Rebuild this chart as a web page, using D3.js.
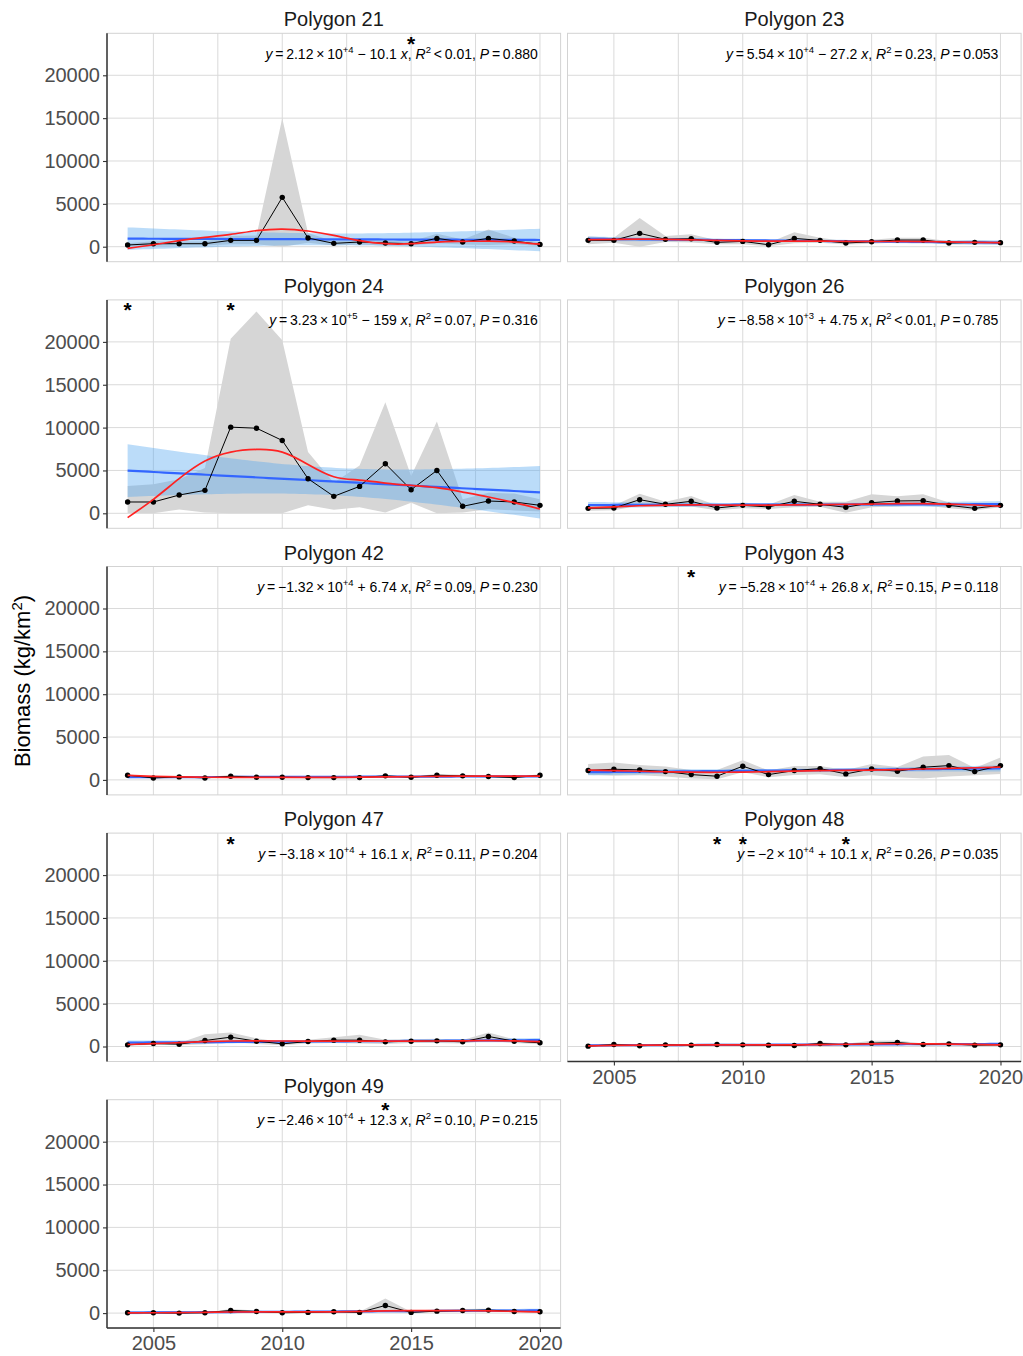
<!DOCTYPE html>
<html><head><meta charset="utf-8">
<script src="https://cdn.jsdelivr.net/npm/d3@7"></script>
<style>body{margin:0;background:#fff}</style>
</head><body><svg id="c" width="1023" height="1356"></svg>
<script>
// ---------------- data ----------------
const years = [2004,2005,2006,2007,2008,2009,2010,2011,2012,2013,2014,2015,2016,2017,2018,2019,2020];
const panelNames = ["Polygon 21","Polygon 23","Polygon 24","Polygon 26","Polygon 42","Polygon 43","Polygon 47","Polygon 48","Polygon 49"];

const meanP21  = [200,350,350,350,740,740,5760,1010,390,545,430,350,970,545,970,660,270];
const lowerP21 = [50,120,150,150,300,300,0,450,150,250,150,150,400,250,200,300,80];
const upperP21 = [400,650,600,600,1250,1300,15000,1600,650,850,700,600,1500,850,2000,1050,500];
const smoothP21 = [-200,230,700,1090,1440,1870,2060,1830,1320,700,350,350,545,620,660,545,300];

const meanP23  = [740,740,1560,860,930,505,620,230,970,740,430,580,780,780,430,505,470];
const lowerP23 = [300,450,0,550,500,300,300,50,400,450,250,350,500,500,250,300,300];
const upperP23 = [1200,1050,3350,1250,1450,750,950,450,1700,1050,650,800,1050,1050,650,750,650];
const smoothP23 = [820,860,880,860,800,730,680,650,650,650,630,610,610,600,560,510,470];

const meanP24  = [1320,1320,2130,2680,10050,9930,8500,4040,1980,3140,5780,2750,5000,815,1435,1320,930];
const lowerP24 = [0,0,450,100,0,0,0,950,400,700,80,1240,0,100,470,340,210];
const upperP24 = [3180,3380,3960,5300,20370,23550,20180,7140,3570,5590,12960,4350,10700,1630,2400,2300,1650];
const smoothP24 = [-500,1630,4040,6090,7140,7450,7140,5700,4270,3880,3530,3260,2990,2480,1900,1240,500];

const meanP26  = [580,620,1590,1050,1400,620,930,740,1400,1050,700,1240,1440,1470,930,580,930];
const lowerP26 = [300,350,900,750,800,350,600,500,700,750,50,700,800,950,600,350,700];
const upperP26 = [850,900,2290,1350,2020,900,1250,1000,2130,1350,1350,2210,2000,2210,1250,800,1150];
const smoothP26 = [640,760,880,950,980,970,950,950,980,1010,1040,1080,1120,1130,1080,970,820];

const meanP42  = [545,230,350,230,430,310,310,270,270,270,470,310,545,470,390,270,545];
const lowerP42 = [420,130,250,150,300,210,210,180,180,180,330,210,400,350,280,180,420];
const upperP42 = [670,330,450,310,560,410,410,360,360,360,610,410,690,590,500,360,670];
const smoothP42 = [520,420,350,310,300,300,300,300,300,320,350,380,420,440,440,440,450];

const meanP43  = [1090,1245,1170,970,620,430,1600,620,1090,1320,700,1280,1010,1480,1670,970,1670];
const lowerP43 = [580,470,540,390,150,70,900,310,580,660,310,540,310,150,400,540,700];
const upperP43 = [1870,2020,1750,1560,1170,1170,2300,1100,1630,1630,1170,1870,1500,2720,2920,1400,2600];
const smoothP43 = [1130,1080,1010,950,900,890,910,960,1030,1080,1110,1150,1200,1270,1350,1420,1480];

const meanP47  = [195,350,270,700,1090,620,310,580,740,740,545,620,660,545,1170,620,430];
const lowerP47 = [100,200,150,250,550,300,150,350,400,350,300,400,400,350,700,400,250];
const upperP47 = [300,500,400,1440,1630,950,500,800,1090,1360,800,850,900,750,1630,850,620];
const smoothP47 = [230,330,450,560,640,660,640,620,620,630,630,630,640,660,680,650,560];

const meanP48  = [40,230,80,195,155,230,195,155,115,350,195,390,470,230,310,155,195];
const lowerP48 = [0,100,0,80,60,100,80,60,40,200,80,120,240,100,150,60,80];
const upperP48 = [100,360,160,310,250,360,310,250,190,500,310,660,700,360,470,250,310];
const smoothP48 = [80,120,150,170,180,180,180,180,190,220,260,300,320,310,280,240,190];

const meanP49  = [40,40,0,40,310,195,40,80,155,80,890,80,230,310,350,195,155];
const lowerP49 = [0,0,0,0,150,80,0,20,60,20,200,20,100,150,200,80,60];
const upperP49 = [80,80,30,80,470,310,80,150,250,150,1710,150,360,470,500,310,250];
const smoothP49 = [20,40,60,90,130,150,150,140,150,200,260,280,280,280,260,210,140];

const starsP21 = [2015];
const starsP23 = [];
const starsP24 = [2004, 2008];
const starsP26 = [];
const starsP42 = [];
const starsP43 = [2008];
const starsP47 = [2008];
const starsP48 = [2009, 2010, 2014];
const starsP49 = [2014];

const eqIntercept = ["2.12","5.54","3.23","\u22128.58","\u22121.32","\u22125.28","\u22123.18","\u22122","\u22122.46"];
const eqExponent  = ["+4","+4","+5","+3","+4","+4","+4","+4","+4"];
const eqSlope     = ["\u2212 10.1","\u2212 27.2","\u2212 159","+ 4.75","+ 6.74","+ 26.8","+ 16.1","+ 10.1","+ 12.3"];
const eqR2        = ["< 0.01","= 0.23","= 0.07","< 0.01","= 0.09","= 0.15","= 0.11","= 0.26","= 0.10"];
const eqP         = ["0.880","0.053","0.316","0.785","0.230","0.118","0.204","0.035","0.215"];

const yTicks = [0,5000,10000,15000,20000];
const xTicks = [2005,2010,2015,2020];
const xMinor = [2007.5,2012.5,2017.5];
const yTitle = "Biomass (kg/km";

const means   = [meanP21,meanP23,meanP24,meanP26,meanP42,meanP43,meanP47,meanP48,meanP49];
const lowers  = [lowerP21,lowerP23,lowerP24,lowerP26,lowerP42,lowerP43,lowerP47,lowerP48,lowerP49];
const uppers  = [upperP21,upperP23,upperP24,upperP26,upperP42,upperP43,upperP47,upperP48,upperP49];
const smooths = [smoothP21,smoothP23,smoothP24,smoothP26,smoothP42,smoothP43,smoothP47,smoothP48,smoothP49];
const stars   = [starsP21,starsP23,starsP24,starsP26,starsP42,starsP43,starsP47,starsP48,starsP49];

// ---------------- linear fit with 95% CI (from the yearly means) ----------------
function linfit(xs, ys, grid) {
  const n = xs.length, xm = d3.mean(xs), ym = d3.mean(ys);
  const sxx = d3.sum(xs, x => (x - xm) ** 2);
  const sxy = d3.sum(xs, (x, i) => (x - xm) * (ys[i] - ym));
  const b = sxy / sxx, a = ym - b * xm;
  const rss = d3.sum(xs, (x, i) => (ys[i] - a - b * x) ** 2);
  const s = Math.sqrt(rss / (n - 2));
  const t = 2.131; // qt(0.975, 15)
  return grid.map(x => {
    const f = a + b * x, se = s * Math.sqrt(1 / n + (x - xm) ** 2 / sxx);
    return {x, f, lo: f - t * se, hi: f + t * se};
  });
}

// ---------------- layout ----------------
const svg = d3.select("#c");
const colX = [107, 567.5], W = 453.6;
const top0 = 33.3, rowStep = 266.6, H = 228.4;
const xDomain = [2003.2, 2020.8], yDomain = [-1750, 24900];
const grid = d3.range(80).map(i => 2004 + 16 * i / 79);
const starLevel = d3.max(uppers.flat());
const FONT = "'Liberation Sans', Arial, Helvetica, sans-serif";
const defs = svg.append("defs");

panelNames.forEach((name, i) => {
  const row = Math.floor(i / 2), col = i % 2;
  const x0 = colX[col], top = top0 + row * rowStep;
  const x = d3.scaleLinear().domain(xDomain).range([x0, x0 + W]);
  const y = d3.scaleLinear().domain(yDomain).range([top + H, top]);
  const g = svg.append("g");
  const clipId = "clip" + i;
  defs.append("clipPath").attr("id", clipId).append("rect")
    .attr("x", x0).attr("y", top).attr("width", W).attr("height", H);

  // grid
  g.selectAll(".gy").data(yTicks).join("line")
    .attr("x1", x0).attr("x2", x0 + W).attr("y1", d => y(d)).attr("y2", d => y(d))
    .attr("stroke", "#dadada").attr("stroke-width", 1);
  g.selectAll(".gx").data(xTicks.concat(xMinor)).join("line")
    .attr("x1", d => x(d)).attr("x2", d => x(d)).attr("y1", top).attr("y2", top + H)
    .attr("stroke", "#dadada").attr("stroke-width", 1);

  const pg = g.append("g").attr("clip-path", `url(#${clipId})`);
  const mean = means[i], lo = lowers[i], hi = uppers[i], sm = smooths[i];
  const pts = years.map((yr, k) => ({yr, m: mean[k], lo: lo[k], hi: hi[k], s: sm[k]}));

  // gray ribbon
  pg.append("path").datum(pts)
    .attr("d", d3.area().x(d => x(d.yr)).y0(d => y(d.lo)).y1(d => y(d.hi)))
    .attr("fill", "#d6d6d6");

  // lm band + line
  const lf = linfit(years, mean, grid);
  pg.append("path").datum(lf)
    .attr("d", d3.area().x(d => x(d.x)).y0(d => y(d.lo)).y1(d => y(d.hi)))
    .attr("fill", "#56a8f0").attr("fill-opacity", 0.4);
  pg.append("path").datum(lf)
    .attr("d", d3.line().x(d => x(d.x)).y(d => y(d.f)))
    .attr("fill", "none").attr("stroke", "#3366FF").attr("stroke-width", 2.2);

  // mean line + points
  pg.append("path").datum(pts)
    .attr("d", d3.line().x(d => x(d.yr)).y(d => y(d.m)))
    .attr("fill", "none").attr("stroke", "#000").attr("stroke-width", 1);
  pg.selectAll("circle").data(pts).join("circle")
    .attr("cx", d => x(d.yr)).attr("cy", d => y(d.m)).attr("r", 2.7).attr("fill", "#000");

  // smooth (red)
  pg.append("path").datum(pts)
    .attr("d", d3.line().curve(d3.curveNatural).x(d => x(d.yr)).y(d => y(d.s)))
    .attr("fill", "none").attr("stroke", "#FF2222").attr("stroke-width", 1.7);

  // border
  g.append("rect").attr("x", x0).attr("y", top).attr("width", W).attr("height", H)
    .attr("fill", "none").attr("stroke", "#d3d3d3").attr("stroke-width", 1);

  // stars
  g.selectAll(".star").data(stars[i]).join("text")
    .attr("x", d => x(d)).attr("y", y(starLevel) + 6)
    .attr("text-anchor", "middle").attr("font-family", FONT).attr("font-size", 21)
    .attr("font-weight", "bold").attr("fill", "#000").text("*");

  // equation
  const eq = g.append("text").attr("x", x0 + 0.95 * W).attr("y", top + 25.5)
    .attr("text-anchor", "end").attr("font-family", FONT).attr("font-size", 14).attr("fill", "#000");
  eq.append("tspan").attr("font-style", "italic").text("y");
  eq.append("tspan").text("\u2009=\u2009" + eqIntercept[i] + "\u2009\u00d7\u200910");
  eq.append("tspan").attr("font-size", 9.5).attr("dy", -6).text(eqExponent[i]);
  eq.append("tspan").attr("dy", 6).text(" " + eqSlope[i] + " ");
  eq.append("tspan").attr("font-style", "italic").text("x");
  eq.append("tspan").text(", ");
  eq.append("tspan").attr("font-style", "italic").text("R");
  eq.append("tspan").attr("font-size", 9.5).attr("dy", -6).text("2");
  eq.append("tspan").attr("dy", 6).text("\u2009" + eqR2[i].replace(" ", "\u2009") + ", ");
  eq.append("tspan").attr("font-style", "italic").text("P");
  eq.append("tspan").text("\u2009=\u2009" + eqP[i]);

  // title
  g.append("text").attr("x", x0 + W / 2).attr("y", top - 7).attr("text-anchor", "middle")
    .attr("font-family", FONT).attr("font-size", 20).attr("fill", "#1a1a1a").text(name);

  // y axis (left column)
  if (col === 0) {
    const ax = g.append("g").attr("transform", `translate(${x0},0)`)
      .call(d3.axisLeft(y).tickValues(yTicks).tickSize(4).tickPadding(3).tickFormat(d3.format("d")));
    ax.select(".domain").remove();
    ax.selectAll(".tick line").attr("stroke", "#333").attr("stroke-width", 1.1);
    ax.selectAll(".tick text").attr("font-family", FONT).attr("font-size", 20).attr("fill", "#4d4d4d");
    g.append("line").attr("x1", x0).attr("x2", x0).attr("y1", top).attr("y2", top + H)
      .attr("stroke", "#333").attr("stroke-width", 1.5);
  }
  // x axis (bottom panels)
  if (i === 7 || i === 8) {
    const ax = g.append("g").attr("transform", `translate(0,${top + H})`)
      .call(d3.axisBottom(x).tickValues(xTicks).tickSize(4).tickPadding(4).tickFormat(d3.format("d")));
    ax.select(".domain").remove();
    ax.selectAll(".tick line").attr("stroke", "#333").attr("stroke-width", 1.1);
    ax.selectAll(".tick text").attr("font-family", FONT).attr("font-size", 20).attr("fill", "#4d4d4d");
    g.append("line").attr("x1", x0).attr("x2", x0 + W).attr("y1", top + H).attr("y2", top + H)
      .attr("stroke", "#333").attr("stroke-width", 1.5);
  }
});

// y axis title
const yt = svg.append("text").attr("transform", "translate(30,681) rotate(-90)")
  .attr("text-anchor", "middle").attr("font-family", FONT).attr("font-size", 22).attr("fill", "#000");
yt.append("tspan").text(yTitle);
yt.append("tspan").attr("font-size", 15).attr("dy", -8).text("2");
yt.append("tspan").attr("dy", 8).text(")");
</script></body></html>
